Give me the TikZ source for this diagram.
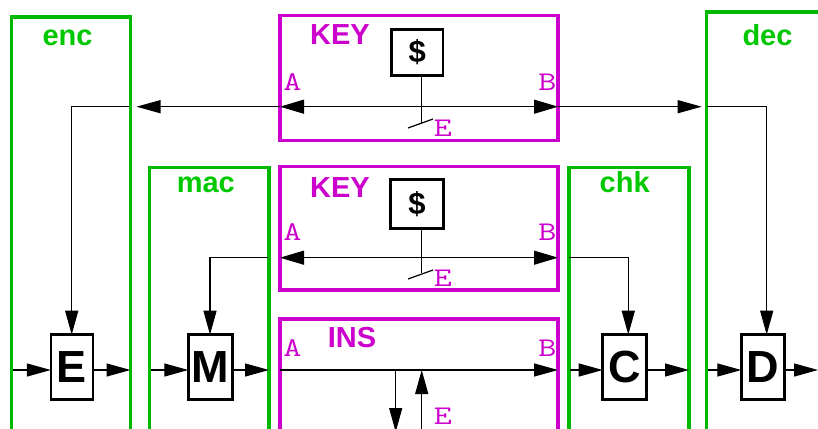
\documentclass[tikz,border=0pt]{standalone}
\usepackage{fontspec}
\usepackage{graphicx}
\usetikzlibrary{arrows.meta}
\newfontfamily\helv{Liberation Sans}
\definecolor{grn}{RGB}{0,185,0}
\definecolor{grntext}{RGB}{0,200,0}
\definecolor{mag}{RGB}{204,0,204}
\newcommand{\labfont}{\helv\bfseries\fontsize{29}{32}\selectfont}
\newcommand{\bigfont}{\helv\bfseries\fontsize{45}{50}\selectfont}
\newcommand{\dolfont}{\helv\bfseries\fontsize{31}{33}\selectfont}
\newcommand{\ttlabfont}{\ttfamily\fontsize{27}{29}\selectfont}
\newcommand{\wide}[1]{\scalebox{1.3}[1]{#1}}
\tikzset{
 gbox/.style={draw=grn, line width=3.5pt, outer sep=0pt, inner sep=0pt, anchor=north west},
 mbox/.style={draw=mag, line width=3.5pt, outer sep=0pt, inner sep=0pt, anchor=north west},
 blkbox/.style={draw=black, line width=2.5pt, fill=white, inner sep=0pt, outer sep=0pt},
 glab/.style={text=grntext, font=\labfont, anchor=base, inner sep=0pt},
 mlab/.style={text=mag, font=\labfont, anchor=base, inner sep=0pt},
 tlab/.style={text=mag, font=\ttlabfont, anchor=base, inner sep=0pt},
 conn/.style={line width=1.2pt, draw=black},
 arr/.style={conn, -{Triangle[length=24pt,width=13pt]}},
 dblarr/.style={conn, {Triangle[length=24pt,width=14pt]}-{Triangle[length=24pt,width=14pt]}},
}
\begin{document}
\begin{tikzpicture}[x=1pt,y=-1pt]
\useasboundingbox (0,0) rectangle (818,428);
\clip (0,0) rectangle (818,428);
% green frames
\node[gbox, minimum width=119pt, minimum height=450pt] (enc) at (11.5,17) {};
\node[gbox, minimum width=119.5pt, minimum height=300pt] (mac) at (149.5,167.5) {};
\node[gbox, minimum width=120pt, minimum height=300pt] (chk) at (569,167.5) {};
\node[gbox, minimum width=200pt, minimum height=450pt] (dec) at (706.5,12) {};
% magenta frames
\node[mbox, minimum width=278pt, minimum height=125pt] (key1) at (280,15.5) {};
\node[mbox, minimum width=278pt, minimum height=123.5pt] (key2) at (280,166.5) {};
\node[mbox, minimum width=278pt, minimum height=200pt] (ins) at (280,319) {};
% labels
\node[glab] (lenc) at (67.5,45.7) {enc};
\node[glab] (ldec) at (767.5,45.7) {dec};
\node[glab] (lmac) at (205.8,192.7) {mac};
\node[glab] (lchk) at (624.7,192.7) {chk};
\node[mlab] (lkey1) at (340,45) {KEY};
\node[mlab] (lkey2) at (340,197.3) {KEY};
\node[mlab] (lins) at (352,347.7) {INS};
\node[tlab] (a1) at (292.3,90) {\wide{A}};
\node[tlab] (b1) at (547.3,90) {\wide{B}};
\node[tlab] (a2) at (292.3,240) {\wide{A}};
\node[tlab] (b2) at (547.3,240) {\wide{B}};
\node[tlab] (a3) at (292.3,356.7) {\wide{A}};
\node[tlab] (b3) at (547.3,356.7) {\wide{B}};
\node[tlab] (e1) at (443,136.7) {\wide{E}};
\node[tlab] (e2) at (443,286.7) {\wide{E}};
\node[tlab] (e3) at (443,424.5) {\wide{E}};
% dollar boxes
\node[blkbox, minimum width=51.5pt, minimum height=45.8pt, font=\dolfont] (d1) at (417.3,52.4) {\$};
\node[blkbox, minimum width=52.6pt, minimum height=49pt, font=\dolfont] (d2) at (417,203.8) {\$};
% process boxes
\node[blkbox, minimum width=42.3pt, minimum height=64.8pt, font=\bigfont] (E) at (72,367.1) {E};
\node[blkbox, minimum width=44.2pt, minimum height=64.8pt, font=\bigfont] (M) at (210.4,367.1) {M};
\node[blkbox, minimum width=43.6pt, minimum height=64.8pt, font=\bigfont] (C) at (624.5,367.1) {C};
\node[blkbox, minimum width=43.4pt, minimum height=64.8pt, font=\bigfont] (D) at (763,367.1) {D};
% coordinates
\coordinate (k1a) at (280,106.7);
\coordinate (k1b) at (558,106.7);
\coordinate (k2a) at (280,257.7);
\coordinate (k2b) at (558,257.7);
\coordinate (r) at (0,370);
\coordinate (out) at (818,370);
\coordinate (sw1) at (421.7,122.7);
\coordinate (sw1a) at (408,128);
\coordinate (sw1b) at (433,119);
\coordinate (sw2) at (421.7,273);
\coordinate (sw2a) at (408,279);
\coordinate (sw2b) at (433,270);
\coordinate (insdt) at (395.7,370);
\coordinate (insdb) at (395.7,432);
\coordinate (insut) at (421.7,370);
\coordinate (insub) at (421.7,432);
% KEY 1
\draw[dblarr] (k1a) -- (k1b);
\draw[conn] (d1.south -| sw1) -- (sw1);
\draw[conn] (sw1a) -- (sw1b);
\draw[arr, shorten >=6pt] (k1a) -- (enc.east |- k1a);
\draw[arr] ([xshift=-2pt]enc.east |- k1a) -| ([xshift=-0.3pt]E.north);
\draw[arr, shorten >=4.8pt] (k1b) -- (dec.west |- k1b);
\draw[arr] (dec.west |- k1b) -| ([xshift=3.7pt]D.north);
% KEY 2
\draw[dblarr] (k2a) -- (k2b);
\draw[conn] (d2.south -| sw2) -- (sw2);
\draw[conn] (sw2a) -- (sw2b);
\draw[arr] ([xshift=-1.5pt]mac.east |- k2a) -| ([xshift=-0.4pt]M.north);
\draw[arr] (chk.west |- k2b) -| ([xshift=3.8pt]C.north);
% bottom row
\draw[arr] ([xshift=1.5pt]enc.west |- r) -- (E.west |- r);
\draw[arr] (E.east |- r) -- (enc.east |- r);
\draw[arr] ([xshift=1.5pt]mac.west |- r) -- (M.west |- r);
\draw[arr] (M.east |- r) -- (mac.east |- r);
\draw[arr] (ins.west |- r) -- (ins.east |- r);
\draw[arr] ([xshift=1pt]chk.west |- r) -- (C.west |- r);
\draw[arr] (C.east |- r) -- (chk.east |- r);
\draw[arr] ([xshift=1.5pt]dec.west |- r) -- (D.west |- r);
\draw[arr] (D.east |- r) -- (out);
\draw[arr] (insdt) -- (insdb);
\draw[arr] (insub) -- (insut);
\end{tikzpicture}
\end{document}
